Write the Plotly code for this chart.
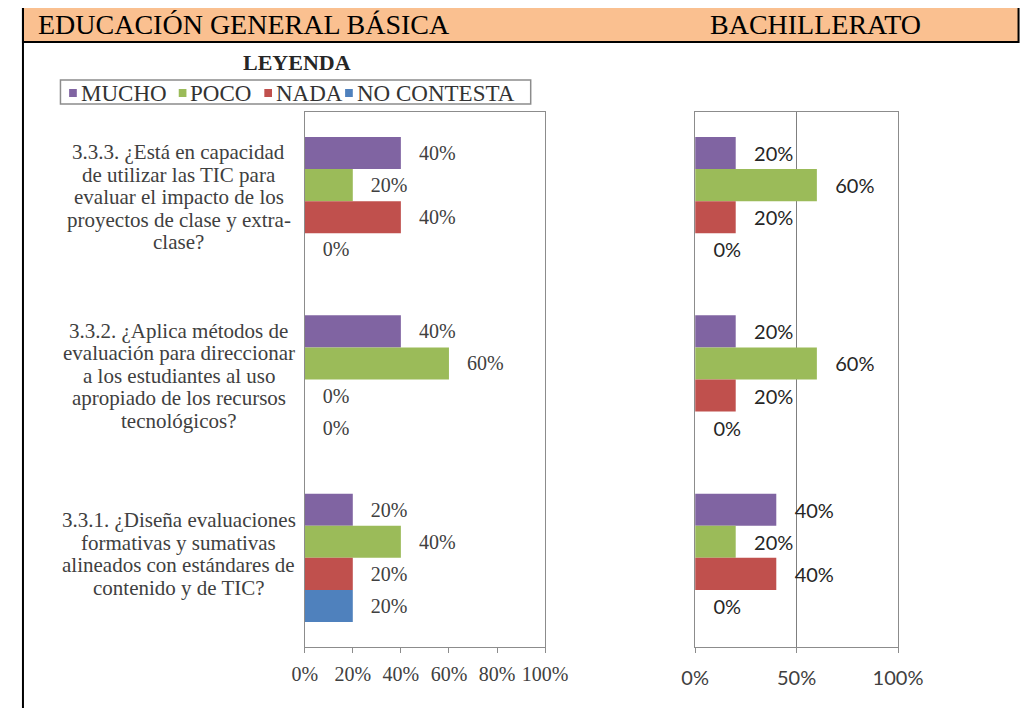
import plotly.graph_objects as go

# Figure is placed by the page at an 8px body margin; keep everything in page coords
OFF = 8
FW, FH = 1032 - 2 * OFF, 716 - 2 * OFF


def px(x):
    return (x - OFF) / FW


def py(y):
    return 1 - (y - OFF) / FH


categories = ["3.3.3", "3.3.2", "3.3.1"]
question_lines = [
    ["3.3.3. ¿Está en capacidad", "de utilizar las TIC para", "evaluar el impacto de los",
     "proyectos de clase y extra-", "clase?"],
    ["3.3.2. ¿Aplica métodos de", "evaluación para direccionar", "a los estudiantes al uso",
     "apropiado de los recursos", "tecnológicos?"],
    ["3.3.1. ¿Diseña evaluaciones", "formativas y sumativas", "alineados con estándares de",
     "contenido y de TIC?"],
]
series = ["MUCHO", "POCO", "NADA", "NO CONTESTA"]
colors = ["#8064A2", "#9BBB59", "#C0504D", "#4F81BD"]

# values in % per category (3.3.3, 3.3.2, 3.3.1)
egb = {
    "MUCHO": [40, 40, 20],
    "POCO": [20, 60, 40],
    "NADA": [40, 0, 20],
    "NO CONTESTA": [0, 0, 20],
}
bach = {
    "MUCHO": [20, 20, 40],
    "POCO": [60, 60, 20],
    "NADA": [20, 20, 40],
    "NO CONTESTA": [0, 0, 0],
}
egb_ticks = [0, 20, 40, 60, 80, 100]
bach_ticks = [0, 50, 100]

SERIF = "Liberation Serif"
SANS = "Lato"
NB = "\u00a0"

fig = go.Figure()

for s, c in zip(series, colors):
    vals = egb[s]
    fig.add_trace(go.Bar(
        y=categories, x=vals, orientation="h", name=s, marker=dict(color=c, line=dict(width=0)),
        text=[NB * 3 + f"{v}%" for v in vals], textposition="outside", cliponaxis=False,
        constraintext="none",
        textfont=dict(family=SERIF, size=20, color="#404040"),
        xaxis="x", yaxis="y", showlegend=False, hoverinfo="skip",
    ))
for s, c in zip(series, colors):
    vals = bach[s]
    fig.add_trace(go.Bar(
        y=categories, x=vals, orientation="h", name=s, marker=dict(color=c, line=dict(width=0)),
        text=[NB * 3 + f"{v}%" for v in vals], textposition="outside", cliponaxis=False,
        constraintext="none",
        textfont=dict(family=SANS, size=20, color="#262626"),
        xaxis="x2", yaxis="y2", showlegend=False, hoverinfo="skip",
    ))

ydom = [py(647), py(112)]
axcol = "#8c8c8c"

fig.update_layout(
    width=FW, height=FH, autosize=False,
    margin=dict(l=0, r=0, t=0, b=0),
    paper_bgcolor="white", plot_bgcolor="white",
    barmode="group", bargap=0.28, bargroupgap=0,
    showlegend=False,
    xaxis=dict(domain=[px(302), px(552)], range=[0, 100], tickvals=egb_ticks,
               ticktext=[f"{t}%" for t in egb_ticks], showgrid=False, zeroline=False,
               showline=True, linecolor=axcol, linewidth=1, mirror=True,
               ticks="outside", ticklen=5, tickcolor=axcol, ticklabelstandoff=4,
               tickfont=dict(family=SERIF, size=20, color="#404040"), fixedrange=True),
    yaxis=dict(domain=ydom, autorange="reversed", showticklabels=False, showgrid=False,
               showline=True, linecolor=axcol, linewidth=1, mirror=True, ticks="",
               fixedrange=True),
    xaxis2=dict(domain=[px(708), px(919)], range=[0, 100], tickvals=bach_ticks,
                ticktext=[f"{t}%" for t in bach_ticks], showgrid=True, gridcolor="#7f7f7f",
                zeroline=False, showline=True, linecolor=axcol, linewidth=1, mirror=True,
                ticks="outside", ticklen=5, tickcolor=axcol, anchor="y2", ticklabelstandoff=8,
                tickfont=dict(family=SANS, size=20, color="#404040"), fixedrange=True),
    yaxis2=dict(domain=ydom, autorange="reversed", showticklabels=False, showgrid=False,
                showline=True, linecolor=axcol, linewidth=1, mirror=True, ticks="",
                anchor="x2", fixedrange=True),
)

# header band and outer border
fig.add_shape(type="rect", xref="paper", yref="paper", x0=px(9), x1=1.02,
              y0=py(42), y1=py(7), fillcolor="#FAC090",
              line=dict(color="black", width=2), layer="below")
fig.add_shape(type="line", xref="paper", yref="paper", x0=px(9), x1=px(9),
              y0=-0.02, y1=py(7), line=dict(color="black", width=2))

annos = [
    dict(text="EDUCACIÓN GENERAL BÁSICA", x=px(23), y=py(25), xanchor="left",
         font=dict(family=SERIF, size=28, color="black")),
    dict(text="BACHILLERATO", x=px(721), y=py(25), xanchor="left",
         font=dict(family=SERIF, size=28, color="black")),
    dict(text="<b>LEYENDA</b>", x=px(294), y=py(63), xanchor="center",
         font=dict(family=SERIF, size=22, color="#262626")),
]
for a in annos:
    fig.add_annotation(xref="paper", yref="paper", yanchor="middle", showarrow=False, **a)

# legend box (LEYENDA)
fig.add_shape(type="rect", xref="paper", yref="paper", x0=px(48), x1=px(537),
              y0=py(104), y1=py(80), line=dict(color="#8c8c8c", width=1.5),
              fillcolor="white", layer="below")
leg_sq_x = [57, 171, 260, 344]
for s, c, sx in zip(series, colors, leg_sq_x):
    fig.add_shape(type="rect", xref="paper", yref="paper", x0=px(sx), x1=px(sx + 8),
                  y0=py(97), y1=py(89), fillcolor=c, line=dict(width=0))
    fig.add_annotation(xref="paper", yref="paper", x=px(sx + 10), y=py(93),
                       xanchor="left", yanchor="middle", text=s, showarrow=False,
                       font=dict(family=SERIF, size=23, color="#333333"))

for cat, lines in zip(categories, question_lines):
    n = len(lines)
    for i, ln in enumerate(lines):
        fig.add_annotation(xref="paper", yref="y", x=px(171), y=cat, xanchor="center",
                           yanchor="middle", yshift=((n - 1) / 2 - i) * 22.5 + 4,
                           text=ln, showarrow=False,
                           font=dict(family=SERIF, size=21, color="#404040"))

fig.write_html("out.html")
